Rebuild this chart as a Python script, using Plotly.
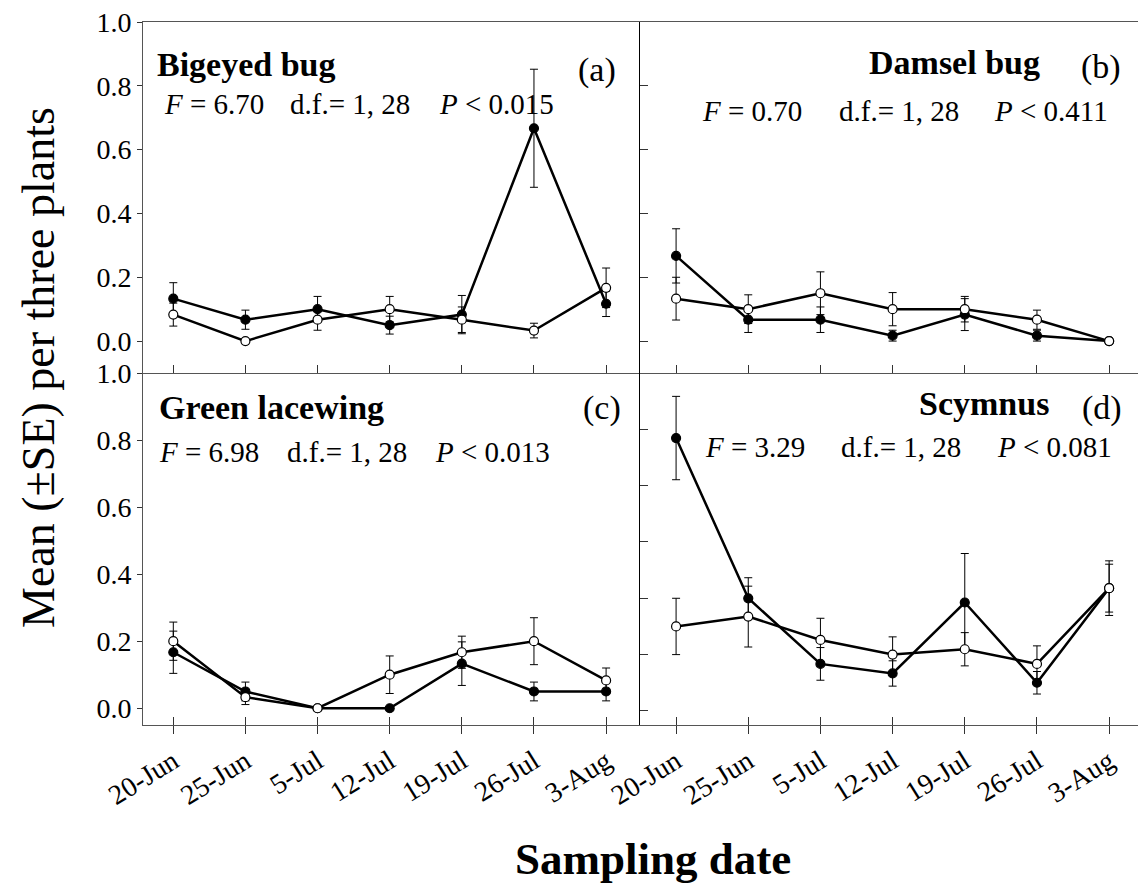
import plotly.graph_objects as go

# Sampling dates (x categories)
dates = ["20-Jun", "25-Jun", "5-Jul", "12-Jul", "19-Jul", "26-Jul", "3-Aug"]

# (a) Bigeyed bug
bigeyed_filled = [0.133, 0.067, 0.100, 0.050, 0.083, 0.667, 0.117]
bigeyed_filled_se = [0.050, 0.030, 0.040, 0.028, 0.060, 0.185, 0.040]
bigeyed_open = [0.083, 0.000, 0.067, 0.100, 0.067, 0.033, 0.167]
bigeyed_open_se = [0.036, 0.000, 0.033, 0.040, 0.040, 0.023, 0.062]

# (b) Damsel bug
damsel_filled = [0.267, 0.067, 0.067, 0.017, 0.083, 0.017, 0.000]
damsel_filled_se = [0.085, 0.040, 0.040, 0.017, 0.050, 0.017, 0.000]
damsel_open = [0.133, 0.100, 0.150, 0.100, 0.100, 0.067, 0.000]
damsel_open_se = [0.067, 0.045, 0.067, 0.052, 0.040, 0.030, 0.000]

# (c) Green lacewing
lacewing_filled = [0.167, 0.050, 0.000, 0.000, 0.133, 0.050, 0.050]
lacewing_filled_se = [0.063, 0.028, 0.000, 0.000, 0.065, 0.028, 0.028]
lacewing_open = [0.200, 0.033, 0.000, 0.100, 0.167, 0.200, 0.083]
lacewing_open_se = [0.057, 0.022, 0.000, 0.056, 0.048, 0.070, 0.037]

# (d) Scymnus
scymnus_filled = [0.969, 0.400, 0.167, 0.133, 0.385, 0.100, 0.436]
scymnus_filled_se = [0.148, 0.073, 0.058, 0.045, 0.174, 0.040, 0.097]
scymnus_open = [0.300, 0.335, 0.252, 0.200, 0.219, 0.167, 0.436]
scymnus_open_se = [0.100, 0.108, 0.077, 0.063, 0.059, 0.064, 0.085]

panel_names = ["Bigeyed bug", "Damsel bug", "Green lacewing", "Scymnus"]
panel_letters = ["(a)", "(b)", "(c)", "(d)"]
f_values = ["6.70", "0.70", "6.98", "3.29"]
p_values = ["0.015", "0.411", "0.013", "0.081"]
df_text = "d.f.= 1, 28"

SERIF = "Liberation Serif"
W, H = 1138, 888
L, R, T, B = 143, 0, 22, 163
PW, PH = W - L - R, H - T - B


def px(xp):
    return (xp - L) / PW


def py(yp):
    return (H - B - yp) / PH


dx = px(640)
dy = py(373)

fig = go.Figure()

panels = [
    ("x", "y", bigeyed_filled, bigeyed_filled_se, bigeyed_open, bigeyed_open_se),
    ("x2", "y2", damsel_filled, damsel_filled_se, damsel_open, damsel_open_se),
    ("x3", "y3", lacewing_filled, lacewing_filled_se, lacewing_open, lacewing_open_se),
    ("x4", "y4", scymnus_filled, scymnus_filled_se, scymnus_open, scymnus_open_se),
]

for xa, ya, fv, fse, ov, ose in panels:
    for vals, se, fill in ((fv, fse, "black"), (ov, ose, "white")):
        fig.add_trace(go.Scatter(
            x=dates, y=vals, xaxis=xa, yaxis=ya,
            mode="lines+markers",
            line=dict(color="black", width=2.5),
            marker=dict(symbol="circle", size=9, color=fill,
                        line=dict(color="black", width=1.2)),
            error_y=dict(type="data", array=se, visible=True,
                         color="black", thickness=1, width=4),
            showlegend=False, hoverinfo="skip", cliponaxis=False,
        ))

# placeholder traces so the overlay tick axes are drawn
for xa, ya in (("x5", "y3"), ("x6", "y4")):
    fig.add_trace(go.Scatter(x=dates, y=[None] * len(dates), xaxis=xa, yaxis=ya,
                             mode="markers", showlegend=False, hoverinfo="skip"))

axis_common = dict(showgrid=False, zeroline=False, showline=True,
                   linecolor="#555555", linewidth=1, tickcolor="#333333",
                   tickwidth=1, tickfont=dict(family=SERIF, size=28, color="black"))
ytickvals = [0, 0.2, 0.4, 0.6, 0.8, 1.0]

fig.update_layout(
    width=W, height=H,
    margin=dict(l=L, r=R, t=T, b=B),
    paper_bgcolor="white", plot_bgcolor="white",
    font=dict(family=SERIF, color="black"),
    xaxis=dict(axis_common, domain=[0, dx], anchor="y", type="category",
               categoryarray=dates, range=[-0.42, 6.47], ticks="inside",
               ticklen=8, showticklabels=False, mirror=True),
    yaxis=dict(axis_common, domain=[dy, 1], anchor="x", range=[-0.1, 1.0],
               tickvals=ytickvals, tickformat=".1f", ticks="outside", ticklen=5),
    xaxis2=dict(axis_common, domain=[dx, 1], anchor="y2", type="category",
                categoryarray=dates, range=[-0.5, 6.4], ticks="inside",
                ticklen=8, showticklabels=False, mirror=True),
    yaxis2=dict(axis_common, domain=[dy, 1], anchor="x2", range=[-0.1, 1.0],
                tickvals=ytickvals, ticks="inside", ticklen=8,
                showticklabels=False, linecolor="black"),
    xaxis3=dict(axis_common, domain=[0, dx], anchor="y3", type="category",
                categoryarray=dates, range=[-0.42, 6.47], ticks="outside",
                ticklen=8, tickangle=-32),
    yaxis3=dict(axis_common, domain=[0, dy], anchor="x3", range=[-0.05, 1.0],
                tickvals=ytickvals, tickformat=".1f", ticks="outside", ticklen=5),
    xaxis4=dict(axis_common, domain=[dx, 1], anchor="y4", type="category",
                categoryarray=dates, range=[-0.5, 6.4], ticks="outside",
                ticklen=8, tickangle=-32),
    yaxis4=dict(axis_common, domain=[0, dy], anchor="x4", range=[-0.05, 1.2],
                tickvals=[0, 0.2, 0.4, 0.6, 0.8, 1.0], ticks="inside",
                ticklen=8, showticklabels=False, linecolor="black"),
    xaxis5=dict(axis_common, overlaying="x3", anchor="y3", type="category",
                categoryarray=dates, range=[-0.42, 6.47], ticks="inside",
                ticklen=8, showticklabels=False, showline=False),
    xaxis6=dict(axis_common, overlaying="x4", anchor="y4", type="category",
                categoryarray=dates, range=[-0.5, 6.4], ticks="inside",
                ticklen=8, showticklabels=False, showline=False),
)

ann = []


def text(t, x, y, size, xanchor="left", bold=False, **kw):
    ann.append(dict(text=f"<b>{t}</b>" if bold else t, x=px(x), y=py(y),
                    xref="paper", yref="paper", xanchor=xanchor, yanchor="middle",
                    showarrow=False,
                    font=dict(family=SERIF, size=size, color="black"), **kw))


# panel titles and letters
title_pos = [(155, 64, "left"), (1042, 63, "right"), (157, 407, "left"), (1051, 403, "right")]
letter_pos = [(618, 70), (1123, 67), (623, 408), (1124, 408)]
for name, (tx, ty, anc), letter, (lx, ly) in zip(panel_names, title_pos, panel_letters, letter_pos):
    text(name, tx, ty, 34, xanchor=anc, bold=True)
    text(letter, lx, ly, 34, xanchor="right")

# statistics lines
stat_pos = [
    (162, 288, 437, 104),
    (700, 837, 992, 111),
    (157, 285, 433, 452),
    (703, 839, 995, 447),
]
for f, p, (fx, dfx, pxx, sy) in zip(f_values, p_values, stat_pos):
    text(f"<i>F</i> = {f}", fx, sy, 29)
    text(df_text, dfx, sy, 29)
    text(f"<i>P</i> &lt; {p}", pxx, sy, 29)

# axis titles
text("Mean (\u00b1SE) per three plants", 38, 368, 46, xanchor="center", textangle=-90)
text("Sampling date", 653, 859, 45, xanchor="center", bold=True)

fig.update_layout(annotations=ann)

fig.write_html("out.html")
